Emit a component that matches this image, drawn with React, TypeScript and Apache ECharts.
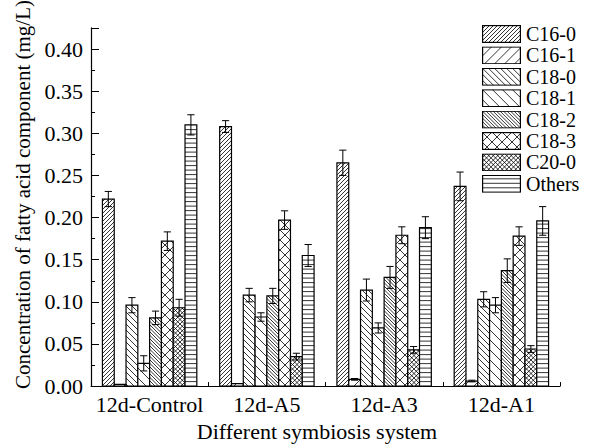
import React, { useEffect, useRef } from 'react';
import * as echarts from 'echarts';

const categories = ['12d-Control', '12d-A5', '12d-A3', '12d-A1'];
const seriesNames = ['C16-0', 'C16-1', 'C18-0', 'C18-1', 'C18-2', 'C18-3', 'C20-0', 'Others'];

const c160 = [0.222, 0.308, 0.265, 0.237];
const c161 = [0.002, 0.003, 0.008, 0.006];
const c180 = [0.096, 0.108, 0.114, 0.103];
const c181 = [0.027, 0.082, 0.069, 0.096];
const c182 = [0.081, 0.107, 0.129, 0.137];
const c183 = [0.172, 0.197, 0.179, 0.178];
const c200 = [0.093, 0.035, 0.043, 0.044];
const others = [0.310, 0.155, 0.188, 0.196];

const c160Err = [0.009, 0.007, 0.015, 0.017];
const c161Err = [0, 0, 0.001, 0.001];
const c180Err = [0.009, 0.008, 0.013, 0.009];
const c181Err = [0.009, 0.005, 0.006, 0.009];
const c182Err = [0.008, 0.009, 0.013, 0.014];
const c183Err = [0.011, 0.011, 0.010, 0.011];
const c200Err = [0.010, 0.004, 0.004, 0.004];
const othersErr = [0.012, 0.013, 0.013, 0.017];

const values = [c160, c161, c180, c181, c182, c183, c200, others];
const errors = [c160Err, c161Err, c180Err, c181Err, c182Err, c183Err, c200Err, othersErr];

// hatch styles: f = "/", b = "\", x = cross, h = horizontal
const patterns = [
  { kind: 'f', s: 4 },
  { kind: 'f', s: 10 },
  { kind: 'b', s: 6 },
  { kind: 'b', s: 10 },
  { kind: 'b', s: 3.5 },
  { kind: 'x', s: 10 },
  { kind: 'x', s: 4.5 },
  { kind: 'h', s: 4.5 },
];

const FONT = "'Liberation Serif', 'Times New Roman', Times, serif";

function hatchPath(x0: number, y0: number, x1: number, y1: number, kind: string, s: number) {
  let d = '';
  const r = (v: number) => v.toFixed(2);
  if (kind === 'h') {
    for (let y = y1 - s; y > y0 + 0.3; y -= s) d += `M${r(x0)} ${r(y)}L${r(x1)} ${r(y)}`;
  }
  if (kind === 'f' || kind === 'x') {
    const cStart = Math.ceil((x0 + y0) / s) * s;
    for (let c = cStart; c < x1 + y1; c += s) {
      const xs = Math.max(x0, c - y1);
      const xe = Math.min(x1, c - y0);
      if (xe > xs) d += `M${r(xs)} ${r(c - xs)}L${r(xe)} ${r(c - xe)}`;
    }
  }
  if (kind === 'b' || kind === 'x') {
    const cStart = Math.ceil((x0 - y1) / s) * s;
    for (let c = cStart; c < x1 - y0; c += s) {
      const xs = Math.max(x0, c + y0);
      const xe = Math.min(x1, c + y1);
      if (xe > xs) d += `M${r(xs)} ${r(xs - c)}L${r(xe)} ${r(xe - c)}`;
    }
  }
  return d;
}

function legendIcon(idx: number) {
  const p = patterns[idx];
  const d = hatchPath(0.5, 0.5, 38.5, 17.5, p.kind, p.s);
  const svg =
    `<svg xmlns="http://www.w3.org/2000/svg" width="39" height="18" viewBox="0 0 39 18">` +
    `<rect x="0" y="0" width="39" height="18" fill="#ffffff"/>` +
    `<path d="${d}" fill="none" stroke="#000" stroke-width="0.8"/>` +
    `<rect x="0.6" y="0.6" width="37.8" height="16.8" fill="none" stroke="#000" stroke-width="1.2"/>` +
    `</svg>`;
  return 'image://data:image/svg+xml;charset=utf-8,' + encodeURIComponent(svg);
}

function makeRenderItem(idx: number) {
  return (params: any, api: any) => {
    const cat = api.value(0);
    const val = api.value(1);
    const err = api.value(2);
    const bandW = api.size([1, 0])[0];
    const base = api.coord([cat, 0]);
    const top = api.coord([cat, val]);
    const groupW = bandW * 0.805;
    const bw = groupW / seriesNames.length;
    const x0 = base[0] - groupW / 2 + idx * bw;
    const x1 = x0 + bw;
    const y0 = top[1];
    const y1 = base[1];
    const p = patterns[idx];
    const children: any[] = [];
    children.push({
      type: 'rect',
      shape: { x: x0, y: y0, width: bw, height: y1 - y0 },
      style: { fill: '#fff', stroke: null },
    });
    const d = hatchPath(x0, y0, x1, y1, p.kind, p.s);
    if (d) {
      children.push({
        type: 'path',
        shape: { pathData: d },
        style: { fill: null, stroke: '#000', lineWidth: 0.8 },
      });
    }
    children.push({
      type: 'rect',
      shape: { x: x0, y: y0, width: bw, height: y1 - y0 },
      style: { fill: null, stroke: '#000', lineWidth: 1.2 },
    });
    if (err > 0) {
      const cx = (x0 + x1) / 2;
      const hi = api.coord([cat, val + err])[1];
      const lo = api.coord([cat, val - err])[1];
      const cw = 3.6;
      children.push({
        type: 'path',
        shape: {
          pathData: `M${cx} ${lo}L${cx} ${hi}M${cx - cw} ${hi}L${cx + cw} ${hi}M${cx - cw} ${lo}L${cx + cw} ${lo}`,
        },
        style: { fill: null, stroke: '#000', lineWidth: 1 },
      });
    }
    return { type: 'group', children };
  };
}

export default function App() {
  const ref = useRef<HTMLDivElement>(null);
  useEffect(() => {
    if (!ref.current) return;
    const chart = echarts.init(ref.current, undefined, { renderer: 'svg' });
    const series = seriesNames.map((name, i) => ({
      name,
      type: 'custom',
      renderItem: makeRenderItem(i),
      encode: { x: 0, y: 1 },
      data: categories.map((_, c) => [c, values[i][c], errors[i][c]]),
      itemStyle: { color: '#fff' },
    }));
    chart.setOption({
      animation: false,
      backgroundColor: '#fff',
      textStyle: { fontFamily: FONT, color: '#000' },
      grid: { left: 91, right: 29, top: 25, bottom: 55, containLabel: false },
      legend: {
        orient: 'vertical',
        left: 482,
        top: 24,
        padding: 0,
        itemWidth: 39,
        itemHeight: 18,
        itemGap: 1.4,
        textStyle: { fontFamily: FONT, fontSize: 20, color: '#000' },
        data: seriesNames.map((name, i) => ({ name, icon: legendIcon(i) })),
      },
      xAxis: {
        type: 'category',
        data: categories,
        name: 'Different symbiosis system',
        nameLocation: 'middle',
        nameGap: 30,
        nameTextStyle: { fontFamily: FONT, fontSize: 22, color: '#000', padding: [0, 17, 0, 0] },
        axisLine: { lineStyle: { color: '#000', width: 1.2 } },
        axisTick: { show: true, inside: true, length: 4, alignWithLabel: false, lineStyle: { color: '#000' } },
        axisLabel: { fontFamily: FONT, fontSize: 22, color: '#000', margin: 7, interval: 0 },
        splitLine: { show: false },
      },
      yAxis: {
        type: 'value',
        min: 0,
        max: 0.425,
        interval: 0.05,
        name: 'Concentration of fatty acid component (mg/L)',
        nameLocation: 'middle',
        nameGap: 57,
        nameTextStyle: { fontFamily: FONT, fontSize: 21, color: '#000', padding: [0, 0, 0, 25] },
        axisLine: { show: true, lineStyle: { color: '#000', width: 1.2 } },
        axisTick: { show: true, inside: true, length: 8, lineStyle: { color: '#000' } },
        minorTick: { show: true, splitNumber: 2, length: 4, lineStyle: { color: '#000' } },
        axisLabel: {
          fontFamily: FONT,
          fontSize: 22,
          color: '#000',
          margin: 8,
          showMaxLabel: false,
          formatter: (v: number) => v.toFixed(2),
        },
        splitLine: { show: false },
      },
      series,
    });
    return () => chart.dispose();
  }, []);
  return <div ref={ref} style={{ width: 589, height: 447, position: 'absolute', left: 0, top: 0 }} />;
}
